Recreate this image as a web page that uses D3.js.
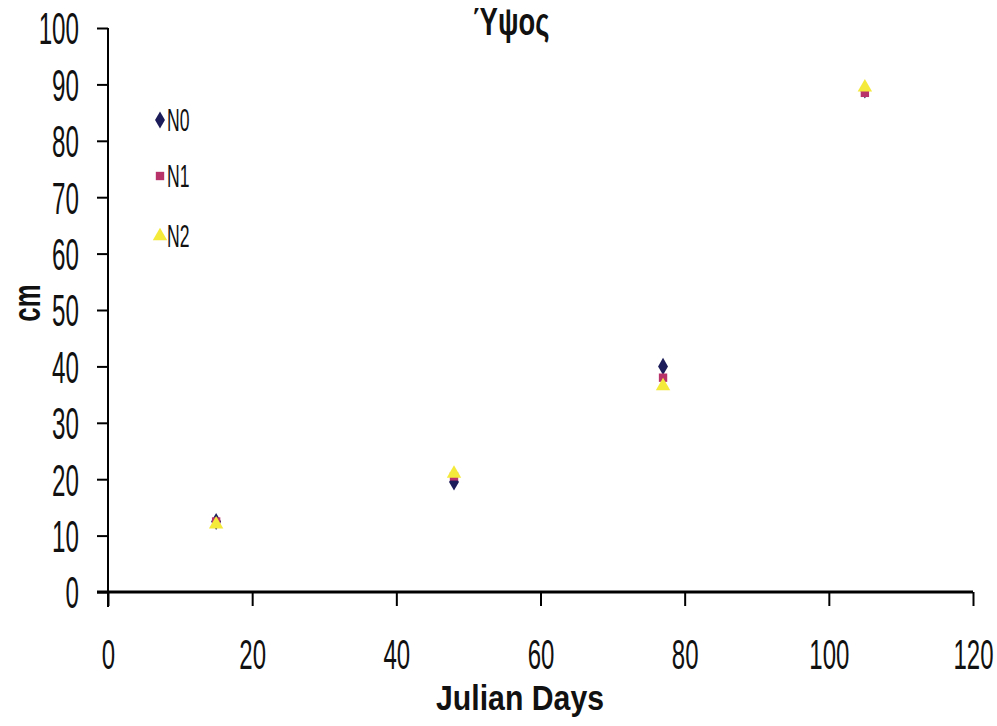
<!doctype html>
<html lang="el">
<head>
<meta charset="utf-8">
<script src="https://d3js.org/d3.v7.min.js"></script>
<style>
  body { margin: 0; background: #fff; }
  svg text { font-family: "Liberation Sans", Arial, sans-serif; fill: #111; }
</style>
</head>
<body>
<svg width="997" height="726"></svg>
<script>
// data
var days = [15, 48, 77, 105];
var n0 = [12.5, 19.5, 40, 89];
var n1 = [12.5, 20.5, 38, 88.5];
var n2 = [12, 21, 36.5, 89.5];
var seriesNames = ["N0", "N1", "N2"];
var xTicks = [0, 20, 40, 60, 80, 100, 120];
var yTicks = [0, 10, 20, 30, 40, 50, 60, 70, 80, 90, 100];

var svg = d3.select("svg");
var sx = 0.55; // the original text is very narrow

var x = d3.scaleLinear().domain([0, 120]).range([108, 973]);
var y = d3.scaleLinear().domain([0, 100]).range([592, 28]);

var yAxis = svg.append("g")
    .attr("transform", "translate(108,0)")
    .call(d3.axisLeft(y).tickValues(yTicks).tickSize(11).tickSizeOuter(0).tickFormat(d3.format("d")));
yAxis.select(".domain").attr("stroke-width", 2).attr("d", "M0,28V607");
yAxis.selectAll(".tick line").attr("stroke-width", 2);
yAxis.selectAll(".tick text")
    .attr("x", -29 / sx)
    .attr("dy", "0.36em")
    .attr("transform", "scale(" + sx + ",1)")
    .style("font-size", "44px");

var xAxis = svg.append("g")
    .attr("transform", "translate(0,592)")
    .call(d3.axisBottom(x).tickValues(xTicks).tickSize(14).tickSizeOuter(0).tickFormat(d3.format("d")));
xAxis.select(".domain").attr("stroke-width", 3).attr("d", "M97,0H973");
xAxis.selectAll(".tick line").attr("stroke-width", 2);
xAxis.selectAll(".tick text")
    .attr("y", 77)
    .attr("dy", 0)
    .attr("transform", "scale(" + (sx * 1.04) + ",1)")
    .style("font-size", "42px");

function label(txt, px, py, size, scale, rot) {
    svg.append("text")
        .attr("transform", "translate(" + px + "," + py + ")" + (rot ? " rotate(" + rot + ")" : "") + " scale(" + scale + ",1)")
        .attr("text-anchor", "middle")
        .style("font-size", size + "px")
        .style("font-weight", "bold")
        .text(txt);
}
label("Julian Days", 520, 710, 36, 0.84);
label("cm", 40, 303, 38, 0.68, -90);
label("Ύψος", 511, 35, 38, 0.72);

var series = [
    { name: "N0", vals: n0, shape: d3.symbolDiamond, color: "#1c1c5a", size: 85 },
    { name: "N1", vals: n1, shape: d3.symbolSquare, color: "#b8336a", size: 70 },
    { name: "N2", vals: n2, shape: d3.symbolTriangle, color: "#f4ea3a", size: 90 }
];

series.forEach(function(s) {
    svg.append("g").selectAll("path")
        .data(s.vals)
        .enter().append("path")
        .attr("transform", function(d, i) { return "translate(" + x(days[i]) + "," + y(d) + ")"; })
        .attr("d", d3.symbol().type(s.shape).size(s.size))
        .attr("fill", s.color);
});

// legend
var legendY = [120, 176, 236];
series.forEach(function(s, i) {
    svg.append("path")
        .attr("transform", "translate(160," + legendY[i] + ")")
        .attr("d", d3.symbol().type(s.shape).size(s.size))
        .attr("fill", s.color);
    svg.append("text")
        .attr("transform", "translate(167," + (legendY[i] + 11) + ") scale(" + sx + ",1)")
        .style("font-size", "32px")
        .text(seriesNames[i]);
});
</script>
</body>
</html>
